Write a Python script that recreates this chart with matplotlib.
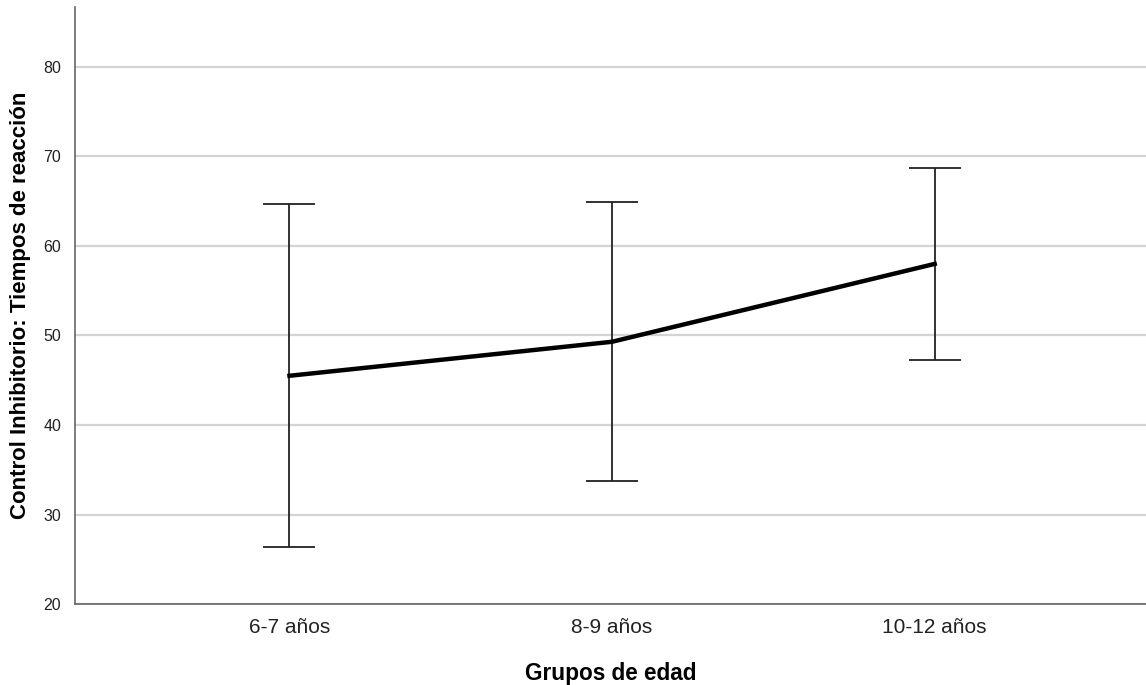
import numpy as np
from matplotlib import pyplot as plt

plt.rcParams['font.family'] = ['Liberation Sans', 'DejaVu Sans']

grupos = ['6-7 años', '8-9 años', '10-12 años']
media = [45.5, 49.3, 58.0]
ic_inf = [26.4, 33.7, 47.3]
ic_sup = [64.7, 64.9, 68.7]

x = np.arange(len(grupos))
err = [np.array(media) - np.array(ic_inf), np.array(ic_sup) - np.array(media)]

fig = plt.figure(figsize=(11.46, 6.85), dpi=100)
ax = fig.add_axes([0.0654, 0.1182, 0.9346, 0.8716])

ax.errorbar(x, media, yerr=err, fmt='none', ecolor='#222222', elinewidth=1.3,
            capsize=18.7, capthick=1.3, zorder=3)
ax.plot(x, media, color='black', linewidth=3.2, zorder=4)

ax.set_xlim(-0.665, 2.655)
ax.set_ylim(20, 86.7)
ax.set_yticks([20, 30, 40, 50, 60, 70, 80])
ax.set_xticks(x)
ax.set_xticklabels(grupos, fontsize=15, color='#222222')
ax.tick_params(axis='y', labelsize=11.5, length=0, pad=10, colors='#222222')
ax.tick_params(axis='x', length=0, pad=10)
ax.yaxis.grid(True, color='#d4d4d4', linewidth=1.6)
ax.set_axisbelow(True)

for s in ['top', 'right']:
    ax.spines[s].set_visible(False)
for s in ['left', 'bottom']:
    ax.spines[s].set_color('#666666')
    ax.spines[s].set_linewidth(1.2)

ax.set_xlabel('Grupos de edad', fontsize=16.3, fontweight='bold', labelpad=18)
ax.set_ylabel('Control Inhibitorio: Tiempos de reacción', fontsize=16,
              fontweight='bold', labelpad=8.5)

fig.savefig('out.png', dpi=100)
